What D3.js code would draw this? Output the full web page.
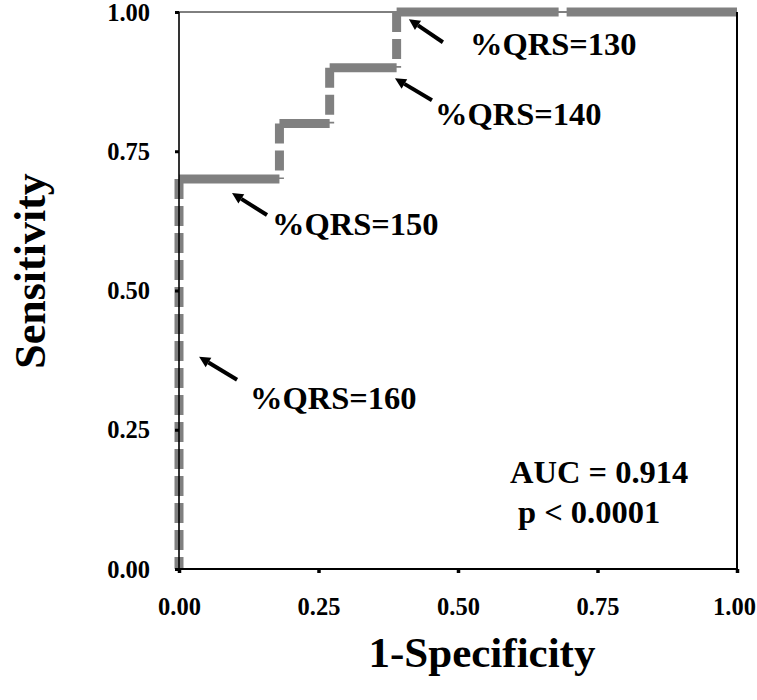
<!DOCTYPE html>
<html>
<head>
<meta charset="utf-8">
<script src="https://cdn.jsdelivr.net/npm/d3@7"></script>
<style>
  body { margin: 0; background: #fff; }
  svg text { font-family: "Liberation Serif", "Times New Roman", serif; font-weight: bold; fill: #000; }
</style>
</head>
<body>
<svg id="roc" width="757" height="700"></svg>
<script>
// ROC curve (step points)
const fpr = [0, 0, 0.18, 0.18, 0.27, 0.27, 0.39, 0.39, 1.0];
const tpr = [0, 0.70, 0.70, 0.80, 0.80, 0.90, 0.90, 1.0, 1.0];

const tickVals = [0, 0.25, 0.5, 0.75, 1.0];

// cut-off annotations: label and the curve point the arrow points at
const cutLabels = ["%QRS=130", "%QRS=140", "%QRS=150", "%QRS=160"];
const cutX = [0.412, 0.387, 0.095, 0.036];
const cutY = [0.987, 0.881, 0.675, 0.381];

const statLines = ["AUC = 0.914", "p < 0.0001"];

const svg = d3.select("#roc");
const plotL = 179, plotR = 737, plotT = 12, plotB = 569;

const x = d3.scaleLinear().domain([0, 1]).range([plotL, plotR]);
const y = d3.scaleLinear().domain([0, 1]).range([plotB, plotT]);

// thin top border goes under the curve
svg.append("line")
  .attr("x1", plotL).attr("x2", plotR).attr("y1", plotT).attr("y2", plotT)
  .attr("stroke", "#000").attr("stroke-width", 1);

// curve drawn segment by segment: risers dashed, runs long-dashed
const segs = [];
for (let i = 1; i < fpr.length; i++) {
  segs.push({x0: fpr[i - 1], y0: tpr[i - 1], x1: fpr[i], y1: tpr[i]});
}
svg.append("g").selectAll("line")
  .data(segs)
  .join("line")
  .attr("x1", d => x(d.x0 === d.x1 ? d.x1 : d.x0))
  .attr("y1", d => y(d.x0 === d.x1 ? d.y1 : d.y0))
  .attr("x2", d => x(d.x0 === d.x1 ? d.x0 : d.x1))
  .attr("y2", d => y(d.x0 === d.x1 ? d.y0 : d.y1))
  .attr("stroke", "#808080")
  .attr("stroke-width", 9)
  .attr("stroke-dasharray", d => d.x0 === d.x1 ? "20,7" : "162,8,400");

// axes
const yAxis = svg.append("g")
  .attr("transform", `translate(${plotL},0)`)
  .call(d3.axisLeft(y).tickValues(tickVals).tickFormat(d3.format(".2f")).tickSize(4).tickPadding(25));
yAxis.select(".domain").attr("stroke-width", 1.6).attr("d", `M0,${plotT}V${plotB}`);
yAxis.selectAll(".tick line").attr("stroke-width", 3);
yAxis.selectAll(".tick text").attr("font-size", 24.5).attr("dy", "0.33em")
  .style("font-family", '"Liberation Serif", serif').style("font-weight", "bold");

const xAxis = svg.append("g")
  .attr("transform", `translate(0,${plotB})`)
  .call(d3.axisBottom(x).tickValues(tickVals).tickFormat(d3.format(".2f")).tickSize(4).tickPadding(25));
xAxis.select(".domain").attr("stroke-width", 2.2).attr("d", `M${plotL},0H${plotR}`);
xAxis.selectAll(".tick line").attr("stroke-width", 3.5);
xAxis.selectAll(".tick text").attr("font-size", 24.5)
  .attr("dx", d => d === 1 ? -3 : 0)
  .style("font-family", '"Liberation Serif", serif').style("font-weight", "bold");

// right border
svg.append("line")
  .attr("x1", plotR).attr("x2", plotR).attr("y1", plotT).attr("y2", plotB)
  .attr("stroke", "#000").attr("stroke-width", 2);

// axis titles
svg.append("text")
  .attr("x", 482).attr("y", 667)
  .attr("text-anchor", "middle").attr("font-size", 43)
  .text("1-Specificity");
svg.append("text")
  .attr("transform", `translate(45,271) rotate(-90)`)
  .attr("text-anchor", "middle").attr("font-size", 44)
  .text("Sensitivity");

// annotations with arrows
const tailDx = [34, 37, 35, 38], tailDy = [23, 22, 22, 23];
const textX = [470, 435, 272, 250], textY = [55, 125, 235, 409];
const ann = svg.append("g");
cutLabels.forEach((lab, i) => {
  const tx = x(cutX[i]), ty = y(cutY[i]);
  const ex = tx + tailDx[i], ey = ty + tailDy[i];
  const ang = Math.atan2(ey - ty, ex - tx);
  const hl = 11, hw = 5.5;
  const bx = tx + hl * Math.cos(ang), by = ty + hl * Math.sin(ang);
  ann.append("line")
    .attr("x1", bx).attr("y1", by).attr("x2", ex).attr("y2", ey)
    .attr("stroke", "#000").attr("stroke-width", 4);
  ann.append("path")
    .attr("d", `M${tx},${ty}L${bx - hw * Math.sin(ang)},${by + hw * Math.cos(ang)}L${bx + hw * Math.sin(ang)},${by - hw * Math.cos(ang)}Z`)
    .attr("fill", "#000");
  ann.append("text")
    .attr("x", textX[i]).attr("y", textY[i])
    .attr("font-size", 32.5)
    .text(lab);
});

// AUC block
svg.append("text").attr("x", 510).attr("y", 483).attr("font-size", 32.5).text(statLines[0]);
svg.append("text").attr("x", 518).attr("y", 523).attr("font-size", 32.5).text(statLines[1]);
</script>
</body>
</html>
